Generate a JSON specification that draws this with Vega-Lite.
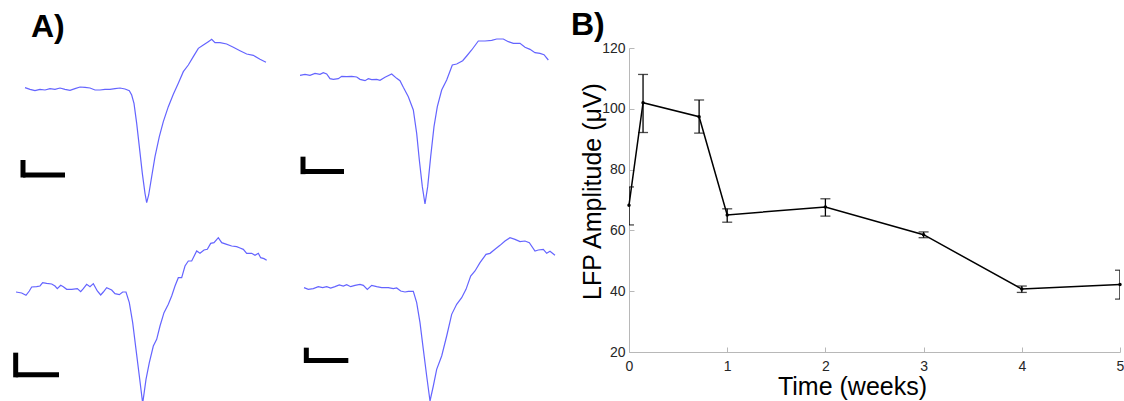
{
  "$schema": "https://vega.github.io/schema/vega-lite/v6.json",
  "padding": {"top": 9, "left": 0, "right": 0, "bottom": 0},
  "config": {"view": {"stroke": null}, "font": "Liberation Sans"},
  "spacing": 11,
  "datasets": {
    "waves": [
      {"r":1,"c":1,"t":0.625,"v":2.8},{"r":1,"c":1,"t":0.75,"v":0.8},{"r":1,"c":1,"t":0.875,"v":-0.8},{"r":1,"c":1,"t":1.0,"v":0.8},{"r":1,"c":1,"t":1.125,"v":0},{"r":1,"c":1,"t":1.25,"v":1.6},{"r":1,"c":1,"t":1.375,"v":0.8},{"r":1,"c":1,"t":1.5,"v":2.4},{"r":1,"c":1,"t":1.625,"v":0.8},{"r":1,"c":1,"t":1.75,"v":-0.4},{"r":1,"c":1,"t":1.875,"v":1.6},{"r":1,"c":1,"t":2.0,"v":3.6},{"r":1,"c":1,"t":2.125,"v":3.2},{"r":1,"c":1,"t":2.25,"v":2.4},{"r":1,"c":1,"t":2.375,"v":0},{"r":1,"c":1,"t":2.5,"v":0},{"r":1,"c":1,"t":2.625,"v":0.8},{"r":1,"c":1,"t":2.75,"v":0.8},{"r":1,"c":1,"t":2.875,"v":1.6},{"r":1,"c":1,"t":3.0,"v":2.4},{"r":1,"c":1,"t":3.125,"v":1.2},{"r":1,"c":1,"t":3.233,"v":-0.8},{"r":1,"c":1,"t":3.292,"v":-6},{"r":1,"c":1,"t":3.35,"v":-16},{"r":1,"c":1,"t":3.417,"v":-40},{"r":1,"c":1,"t":3.483,"v":-68},{"r":1,"c":1,"t":3.558,"v":-100},{"r":1,"c":1,"t":3.625,"v":-124},{"r":1,"c":1,"t":3.667,"v":-135.2},{"r":1,"c":1,"t":3.717,"v":-126},{"r":1,"c":1,"t":3.792,"v":-104},{"r":1,"c":1,"t":3.875,"v":-80},{"r":1,"c":1,"t":3.983,"v":-56},{"r":1,"c":1,"t":4.083,"v":-38},{"r":1,"c":1,"t":4.208,"v":-20},{"r":1,"c":1,"t":4.333,"v":-5.2},{"r":1,"c":1,"t":4.458,"v":8},{"r":1,"c":1,"t":4.583,"v":22},{"r":1,"c":1,"t":4.708,"v":30},{"r":1,"c":1,"t":4.833,"v":40},{"r":1,"c":1,"t":4.958,"v":50},{"r":1,"c":1,"t":5.083,"v":54},{"r":1,"c":1,"t":5.208,"v":58},{"r":1,"c":1,"t":5.292,"v":60.8},{"r":1,"c":1,"t":5.375,"v":56.8},{"r":1,"c":1,"t":5.5,"v":56.8},{"r":1,"c":1,"t":5.667,"v":55.2},{"r":1,"c":1,"t":5.833,"v":51.2},{"r":1,"c":1,"t":6.0,"v":47.2},{"r":1,"c":1,"t":6.167,"v":43.2},{"r":1,"c":1,"t":6.333,"v":41.6},{"r":1,"c":1,"t":6.5,"v":36.8},{"r":1,"c":1,"t":6.65,"v":33.2},
      {"r":1,"c":1,"t":0.575,"t2":0.575,"v":-84,"v2":-105},
      {"r":1,"c":1,"t":0.575,"t2":1.625,"v":-102,"v2":-102},
      {"r":1,"c":2,"t":0.5,"v":17.6},{"r":1,"c":2,"t":0.625,"v":18.8},{"r":1,"c":2,"t":0.75,"v":17.6},{"r":1,"c":2,"t":0.875,"v":20},{"r":1,"c":2,"t":1.0,"v":18.8},{"r":1,"c":2,"t":1.083,"v":20.8},{"r":1,"c":2,"t":1.167,"v":19.2},{"r":1,"c":2,"t":1.25,"v":13.6},{"r":1,"c":2,"t":1.333,"v":12.8},{"r":1,"c":2,"t":1.458,"v":13.6},{"r":1,"c":2,"t":1.542,"v":16.4},{"r":1,"c":2,"t":1.667,"v":16},{"r":1,"c":2,"t":1.792,"v":16.4},{"r":1,"c":2,"t":1.917,"v":15.6},{"r":1,"c":2,"t":2.0,"v":12.8},{"r":1,"c":2,"t":2.125,"v":11.2},{"r":1,"c":2,"t":2.208,"v":13.6},{"r":1,"c":2,"t":2.292,"v":12.4},{"r":1,"c":2,"t":2.417,"v":12.8},{"r":1,"c":2,"t":2.5,"v":11.6},{"r":1,"c":2,"t":2.625,"v":15.2},{"r":1,"c":2,"t":2.792,"v":19.2},{"r":1,"c":2,"t":2.917,"v":14},{"r":1,"c":2,"t":3.0,"v":11.2},{"r":1,"c":2,"t":3.083,"v":3.2},{"r":1,"c":2,"t":3.208,"v":-8},{"r":1,"c":2,"t":3.333,"v":-24},{"r":1,"c":2,"t":3.417,"v":-52},{"r":1,"c":2,"t":3.483,"v":-84},{"r":1,"c":2,"t":3.558,"v":-116},{"r":1,"c":2,"t":3.625,"v":-136.8},{"r":1,"c":2,"t":3.692,"v":-116},{"r":1,"c":2,"t":3.767,"v":-80},{"r":1,"c":2,"t":3.85,"v":-44},{"r":1,"c":2,"t":3.933,"v":-20},{"r":1,"c":2,"t":4.042,"v":0},{"r":1,"c":2,"t":4.167,"v":12},{"r":1,"c":2,"t":4.308,"v":30},{"r":1,"c":2,"t":4.417,"v":31.2},{"r":1,"c":2,"t":4.567,"v":35.2},{"r":1,"c":2,"t":4.667,"v":40.8},{"r":1,"c":2,"t":4.792,"v":48},{"r":1,"c":2,"t":4.958,"v":58.8},{"r":1,"c":2,"t":5.125,"v":58.8},{"r":1,"c":2,"t":5.292,"v":59.6},{"r":1,"c":2,"t":5.417,"v":61.2},{"r":1,"c":2,"t":5.583,"v":61.2},{"r":1,"c":2,"t":5.708,"v":58},{"r":1,"c":2,"t":5.833,"v":56},{"r":1,"c":2,"t":6.0,"v":56},{"r":1,"c":2,"t":6.125,"v":51.2},{"r":1,"c":2,"t":6.25,"v":48.8},{"r":1,"c":2,"t":6.375,"v":44.8},{"r":1,"c":2,"t":6.5,"v":44},{"r":1,"c":2,"t":6.6,"v":42.4},{"r":1,"c":2,"t":6.708,"v":36},
      {"r":1,"c":2,"t":0.575,"t2":0.575,"v":-80,"v2":-101},
      {"r":1,"c":2,"t":0.575,"t2":1.6,"v":-97.8,"v2":-97.8},
      {"r":2,"c":1,"t":0.4,"v":-13.2},{"r":2,"c":1,"t":0.542,"v":-14.4},{"r":2,"c":1,"t":0.65,"v":-17.2},{"r":2,"c":1,"t":0.733,"v":-12},{"r":2,"c":1,"t":0.792,"v":-7.2},{"r":2,"c":1,"t":0.917,"v":-6.8},{"r":2,"c":1,"t":1.0,"v":-6},{"r":2,"c":1,"t":1.067,"v":-2},{"r":2,"c":1,"t":1.167,"v":-2.8},{"r":2,"c":1,"t":1.292,"v":-3.6},{"r":2,"c":1,"t":1.375,"v":-6},{"r":2,"c":1,"t":1.433,"v":-9.2},{"r":2,"c":1,"t":1.517,"v":-5.2},{"r":2,"c":1,"t":1.583,"v":-6.8},{"r":2,"c":1,"t":1.667,"v":-10},{"r":2,"c":1,"t":1.792,"v":-10},{"r":2,"c":1,"t":1.933,"v":-9.2},{"r":2,"c":1,"t":2.017,"v":-12.8},{"r":2,"c":1,"t":2.083,"v":-9.2},{"r":2,"c":1,"t":2.167,"v":-4},{"r":2,"c":1,"t":2.25,"v":-6.8},{"r":2,"c":1,"t":2.333,"v":-3.2},{"r":2,"c":1,"t":2.433,"v":-12},{"r":2,"c":1,"t":2.517,"v":-16.8},{"r":2,"c":1,"t":2.583,"v":-13.2},{"r":2,"c":1,"t":2.667,"v":-8},{"r":2,"c":1,"t":2.792,"v":-10.8},{"r":2,"c":1,"t":2.875,"v":-15.2},{"r":2,"c":1,"t":2.983,"v":-16.4},{"r":2,"c":1,"t":3.067,"v":-13.2},{"r":2,"c":1,"t":3.15,"v":-13.2},{"r":2,"c":1,"t":3.233,"v":-26},{"r":2,"c":1,"t":3.317,"v":-50},{"r":2,"c":1,"t":3.4,"v":-82},{"r":2,"c":1,"t":3.483,"v":-114},{"r":2,"c":1,"t":3.567,"v":-146.8},{"r":2,"c":1,"t":3.65,"v":-118},{"r":2,"c":1,"t":3.733,"v":-98},{"r":2,"c":1,"t":3.833,"v":-78},{"r":2,"c":1,"t":3.917,"v":-70},{"r":2,"c":1,"t":4.0,"v":-54},{"r":2,"c":1,"t":4.1,"v":-38},{"r":2,"c":1,"t":4.208,"v":-28},{"r":2,"c":1,"t":4.292,"v":-18},{"r":2,"c":1,"t":4.375,"v":-6},{"r":2,"c":1,"t":4.458,"v":4},{"r":2,"c":1,"t":4.542,"v":4},{"r":2,"c":1,"t":4.625,"v":18},{"r":2,"c":1,"t":4.708,"v":24},{"r":2,"c":1,"t":4.792,"v":24},{"r":2,"c":1,"t":4.917,"v":36},{"r":2,"c":1,"t":5.0,"v":33.2},{"r":2,"c":1,"t":5.1,"v":37.2},{"r":2,"c":1,"t":5.183,"v":38},{"r":2,"c":1,"t":5.267,"v":45.2},{"r":2,"c":1,"t":5.35,"v":46},{"r":2,"c":1,"t":5.458,"v":52},{"r":2,"c":1,"t":5.542,"v":46},{"r":2,"c":1,"t":5.667,"v":44},{"r":2,"c":1,"t":5.792,"v":42},{"r":2,"c":1,"t":5.917,"v":41.2},{"r":2,"c":1,"t":6.0,"v":39.6},{"r":2,"c":1,"t":6.083,"v":38},{"r":2,"c":1,"t":6.167,"v":33.2},{"r":2,"c":1,"t":6.292,"v":33.2},{"r":2,"c":1,"t":6.375,"v":30.8},{"r":2,"c":1,"t":6.458,"v":33.2},{"r":2,"c":1,"t":6.517,"v":28},{"r":2,"c":1,"t":6.6,"v":26.8},{"r":2,"c":1,"t":6.667,"v":24.8},
      {"r":2,"c":1,"t":0.392,"t2":0.392,"v":-86,"v2":-115.6},
      {"r":2,"c":1,"t":0.392,"t2":1.475,"v":-112.6,"v2":-112.6},
      {"r":2,"c":2,"t":0.6,"v":-8},{"r":2,"c":2,"t":0.708,"v":-10},{"r":2,"c":2,"t":0.833,"v":-9.2},{"r":2,"c":2,"t":0.958,"v":-6.8},{"r":2,"c":2,"t":1.067,"v":-8},{"r":2,"c":2,"t":1.167,"v":-6.8},{"r":2,"c":2,"t":1.267,"v":-8.4},{"r":2,"c":2,"t":1.375,"v":-6.8},{"r":2,"c":2,"t":1.483,"v":-4.8},{"r":2,"c":2,"t":1.583,"v":-6},{"r":2,"c":2,"t":1.667,"v":-4.4},{"r":2,"c":2,"t":1.767,"v":-6.8},{"r":2,"c":2,"t":1.875,"v":-5.2},{"r":2,"c":2,"t":2.0,"v":-4},{"r":2,"c":2,"t":2.083,"v":-5.2},{"r":2,"c":2,"t":2.183,"v":-10},{"r":2,"c":2,"t":2.292,"v":-5.2},{"r":2,"c":2,"t":2.417,"v":-6.8},{"r":2,"c":2,"t":2.542,"v":-8},{"r":2,"c":2,"t":2.708,"v":-8},{"r":2,"c":2,"t":2.833,"v":-9.2},{"r":2,"c":2,"t":2.917,"v":-8.4},{"r":2,"c":2,"t":3.017,"v":-12},{"r":2,"c":2,"t":3.125,"v":-13.2},{"r":2,"c":2,"t":3.208,"v":-12.4},{"r":2,"c":2,"t":3.333,"v":-12.4},{"r":2,"c":2,"t":3.417,"v":-26},{"r":2,"c":2,"t":3.5,"v":-50},{"r":2,"c":2,"t":3.583,"v":-82},{"r":2,"c":2,"t":3.667,"v":-114},{"r":2,"c":2,"t":3.75,"v":-144},{"r":2,"c":2,"t":3.833,"v":-126},{"r":2,"c":2,"t":3.917,"v":-106},{"r":2,"c":2,"t":4.042,"v":-90},{"r":2,"c":2,"t":4.167,"v":-66},{"r":2,"c":2,"t":4.292,"v":-40},{"r":2,"c":2,"t":4.417,"v":-28},{"r":2,"c":2,"t":4.542,"v":-20},{"r":2,"c":2,"t":4.65,"v":-10},{"r":2,"c":2,"t":4.767,"v":6},{"r":2,"c":2,"t":4.875,"v":12},{"r":2,"c":2,"t":5.0,"v":22},{"r":2,"c":2,"t":5.15,"v":32},{"r":2,"c":2,"t":5.25,"v":33.2},{"r":2,"c":2,"t":5.375,"v":38},{"r":2,"c":2,"t":5.5,"v":42.8},{"r":2,"c":2,"t":5.625,"v":48},{"r":2,"c":2,"t":5.75,"v":52},{"r":2,"c":2,"t":5.875,"v":50},{"r":2,"c":2,"t":6.0,"v":47.2},{"r":2,"c":2,"t":6.125,"v":48},{"r":2,"c":2,"t":6.233,"v":46},{"r":2,"c":2,"t":6.375,"v":36},{"r":2,"c":2,"t":6.458,"v":37.2},{"r":2,"c":2,"t":6.583,"v":38},{"r":2,"c":2,"t":6.667,"v":33.2},{"r":2,"c":2,"t":6.75,"v":35.6},{"r":2,"c":2,"t":6.875,"v":30.8},
      {"r":2,"c":2,"t":0.658,"t2":0.658,"v":-80,"v2":-98.4},
      {"r":2,"c":2,"t":0.658,"t2":1.708,"v":-95.4,"v2":-95.4}
    ],
    "amp": [
      {"week":0,"mean":68.3,"lo":61.8,"hi":74.3},
      {"week":0.143,"mean":102.0,"lo":92.2,"hi":111.3},
      {"week":0.714,"mean":97.4,"lo":92.0,"hi":102.9},
      {"week":1,"mean":65.1,"lo":62.7,"hi":67.1},
      {"week":2,"mean":67.7,"lo":64.7,"hi":70.4},
      {"week":3,"mean":58.6,"lo":57.6,"hi":59.5},
      {"week":4,"mean":40.7,"lo":39.6,"hi":41.7},
      {"week":5,"mean":42.2,"lo":37.4,"hi":46.9}
    ]
  },
  "hconcat": [
    {
      "title": {"text": "A)", "anchor": "start", "frame": "group", "fontSize": 32, "fontWeight": "bold", "color": "black", "dx": 31, "offset": -7},
      "data": {"name": "waves"},
      "facet": {
        "row": {"field": "r", "type": "ordinal", "header": null},
        "column": {"field": "c", "type": "ordinal", "header": null}
      },
      "spacing": {"row": 20, "column": 0},
      "spec": {
        "width": 280,
        "height": 165,
        "layer": [
          {
            "transform": [{"filter": "!isValid(datum.t2)"}],
            "mark": {"type": "line", "color": "#6464ff", "strokeWidth": 1.2},
            "encoding": {
              "x": {"field": "t", "type": "quantitative", "scale": {"domain": [0, 7], "nice": false}, "axis": null},
              "y": {"field": "v", "type": "quantitative", "scale": {"domain": [-147.6, 50.4], "nice": false, "zero": false}, "axis": null}
            }
          },
          {
            "transform": [{"filter": "isValid(datum.t2)"}],
            "mark": {"type": "rule", "color": "black", "strokeWidth": 5},
            "encoding": {
              "x": {"field": "t", "type": "quantitative"},
              "x2": {"field": "t2"},
              "y": {"field": "v", "type": "quantitative"},
              "y2": {"field": "v2"}
            }
          }
        ]
      }
    },
    {
      "title": {"text": "B)", "anchor": "start", "frame": "group", "fontSize": 32, "fontWeight": "bold", "color": "black", "dx": -58, "offset": -1},
      "data": {"name": "amp"},
      "width": 491,
      "height": 304,
      "layer": [
        {
          "mark": {"type": "rule", "color": "black", "strokeWidth": 1.3, "clip": true},
          "encoding": {
            "x": {"field": "week", "type": "quantitative", "scale": {"domain": [0, 5], "nice": false},
              "axis": {"values": [0, 1, 2, 3, 4, 5], "format": "d", "title": "Time (weeks)", "grid": false, "tickSize": -5, "labelPadding": 12, "labelFlush": false, "labelFontSize": 14, "labelColor": "#262626", "titleFontSize": 25, "titleFontWeight": "normal", "titleColor": "black", "titlePadding": 1, "titleX": 223, "domainColor": "#b8b8b8", "tickColor": "#b8b8b8"}},
            "y": {"field": "lo", "type": "quantitative", "scale": {"domain": [20, 120], "nice": false, "zero": false},
              "axis": {"values": [20, 40, 60, 80, 100, 120], "title": "LFP Amplitude (μV)", "grid": false, "tickSize": -5, "labelPadding": 9, "labelFontSize": 14, "labelColor": "#262626", "titleFontSize": 25, "titleFontWeight": "normal", "titleColor": "black", "titlePadding": 2, "titleX": -24, "titleY": 143, "domainColor": "#b8b8b8", "tickColor": "#b8b8b8"}},
            "y2": {"field": "hi"}
          }
        },
        {
          "mark": {"type": "tick", "orient": "horizontal", "size": 10, "thickness": 1.3, "color": "black", "clip": true},
          "encoding": {
            "x": {"field": "week", "type": "quantitative"},
            "y": {"field": "lo", "type": "quantitative"}
          }
        },
        {
          "mark": {"type": "tick", "orient": "horizontal", "size": 10, "thickness": 1.3, "color": "black", "clip": true},
          "encoding": {
            "x": {"field": "week", "type": "quantitative"},
            "y": {"field": "hi", "type": "quantitative"}
          }
        },
        {
          "mark": {"type": "line", "color": "black", "strokeWidth": 1.5, "point": {"filled": true, "size": 12, "color": "black"}},
          "encoding": {
            "x": {"field": "week", "type": "quantitative"},
            "y": {"field": "mean", "type": "quantitative"}
          }
        }
      ]
    }
  ]
}
